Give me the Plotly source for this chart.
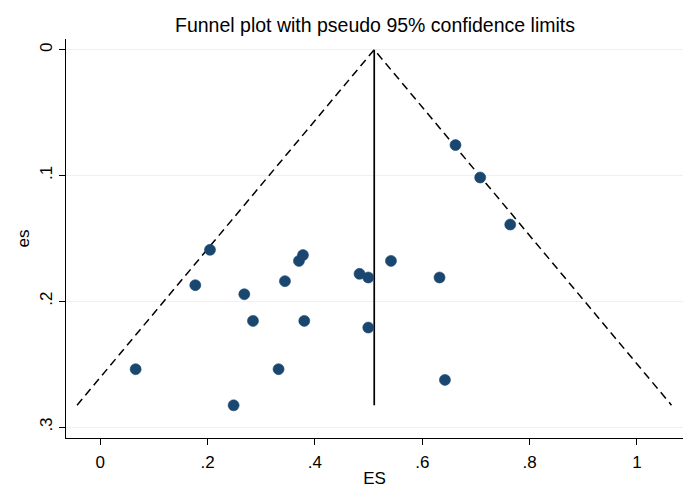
import plotly.graph_objects as go

# study effect sizes (ES) and their standard errors (es)
es_x = [0.2044, 0.177, 0.2683, 0.2845, 0.0658, 0.2484, 0.3322, 0.3441, 0.3702, 0.3777,
        0.3801, 0.4831, 0.4994, 0.4994, 0.5417, 0.6322, 0.6423, 0.662, 0.708, 0.764]
es_se = [0.1591, 0.1872, 0.1944, 0.2156, 0.254, 0.2827, 0.254, 0.184, 0.1679, 0.1633,
         0.2156, 0.1782, 0.1811, 0.2209, 0.1679, 0.1811, 0.2625, 0.0758, 0.1016, 0.139]

# pseudo 95% limits and pooled estimate
limit_x = [-0.0434, 0.5105, 1.0645]
limit_y = [0.2826, 0.0, 0.2826]
pooled_x = [0.5105, 0.5105]
pooled_y = [0.0, 0.2826]

x_ticks = [0, 0.2, 0.4, 0.6, 0.8, 1]
x_labels = ["0", ".2", ".4", ".6", ".8", "1"]
y_ticks = [0, 0.1, 0.2, 0.3]
y_labels = ["0", ".1", ".2", ".3"]

fig = go.Figure()
fig.add_trace(go.Scatter(x=limit_x, y=limit_y, mode="lines",
                         line=dict(color="black", width=1.5, dash="8px,5px")))
fig.add_trace(go.Scatter(x=pooled_x, y=pooled_y, mode="lines",
                         line=dict(color="black", width=1.7)))
fig.add_trace(go.Scatter(x=es_x, y=es_se, mode="markers",
                         marker=dict(color="#1a476f", size=11,
                                     line=dict(width=0.6, color="#1a476f"))))

# page body has an 8px margin, so the figure is sized to fit inside it
font = "Arial, Liberation Sans, sans-serif"
fig.update_layout(
    width=680, height=485,
    margin=dict(l=58, r=5, t=31, b=55),
    plot_bgcolor="white", paper_bgcolor="white",
    showlegend=False,
    font=dict(family=font, size=17, color="black"),
    title=dict(text="Funnel plot with pseudo 95% confidence limits",
               x=0.5397, xanchor="center", y=0.965, yanchor="middle",
               font=dict(size=19.5)),
)
fig.update_xaxes(
    range=[-0.064, 1.086], tickvals=x_ticks, ticktext=x_labels, automargin=False,
    showgrid=False, zeroline=False, showline=True, linecolor="black", linewidth=1.3,
    ticks="outside", ticklen=6, tickwidth=1.2, tickcolor="black", ticklabelstandoff=2,
    tickfont=dict(size=17), title=dict(text="ES", font=dict(size=17), standoff=1),
)
fig.update_yaxes(
    range=[0.3087, -0.0085], tickvals=y_ticks, ticktext=y_labels, automargin=False,
    showgrid=True, gridcolor="#eaf2f3", gridwidth=1.2,
    zeroline=False, showline=True, linecolor="black", linewidth=1.3,
    ticks="outside", ticklen=6, tickwidth=1.2, tickcolor="black",
    tickangle=-90, tickfont=dict(size=17),
    title=dict(text="es", font=dict(size=17), standoff=3),
)

fig.write_html("out.html")
